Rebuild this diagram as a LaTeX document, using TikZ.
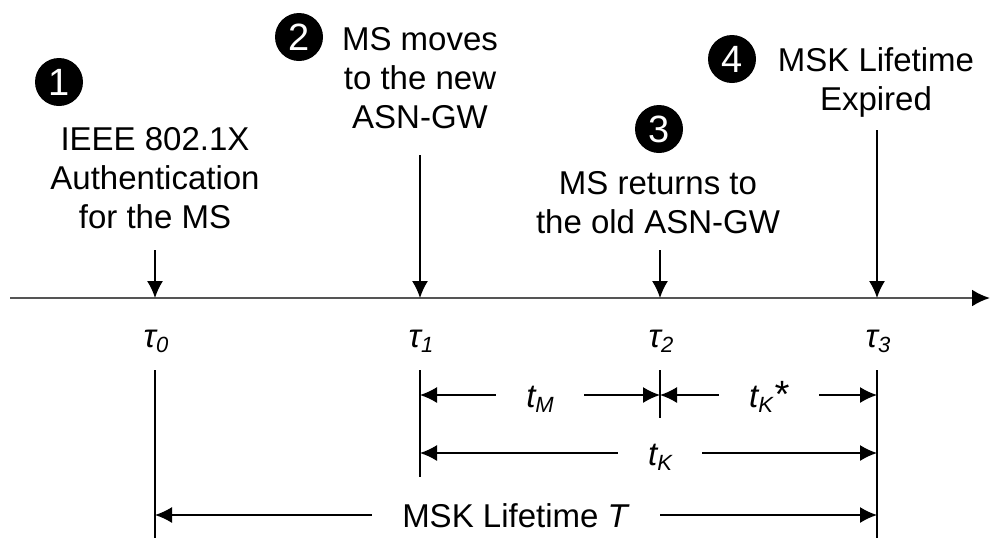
\documentclass[tikz,border=0pt]{standalone}
\usepackage{fontspec}
\setmainfont{Liberation Sans}
\usetikzlibrary{arrows.meta}

\definecolor{axisgray}{RGB}{85,85,85}

% subscript set a little below the baseline
\newcommand{\lowsub}[1]{\raisebox{-2.5pt}{\fontsize{11}{11}\selectfont #1}}

\begin{document}
\begin{tikzpicture}[x=0.5pt, y=-0.5pt,
    every node/.style={font=\fontsize{16.5}{19.5}\selectfont},
    event/.style={align=center, inner sep=0pt, anchor=base},
    badge/.style={circle, fill=black, text=white, minimum size=24pt, inner sep=0pt, font=\fontsize{19}{19}\selectfont},
    instant/.style={inner sep=0pt, anchor=base, font=\fontsize{16.5}{19.5}\selectfont\itshape},
    span/.style={inner xsep=15pt, inner ysep=0pt, text height=14pt, text depth=2pt},
    pointer/.style={-{Latex[length=8.5pt, width=8pt]}, line width=0.75pt},
    guide/.style={line width=0.75pt}]
    \useasboundingbox (0,0) rectangle (991,538);

    % Time axis and the four instants on it
    \coordinate (start) at (10,298);
    \coordinate (end) at (990,298);
    \coordinate (t0) at (155,298);
    \coordinate (t1) at (420,298);
    \coordinate (t2) at (660,298);
    \coordinate (t3) at (877,298);
    \draw[-{Latex[length=9pt, width=8.5pt, color=black]}, line width=1.2pt, draw=axisgray] (start) -- (end);

    % Events above the axis (anchored on the last line)
    \node[badge] (n1) at (59,82) {1};
    \node[badge] (n2) at (299,37) {2};
    \node[badge] (n3) at (659,129) {3};
    \node[badge] (n4) at (732,59) {4};
    \node[event] (ev1) at (155,228) {IEEE 802.1X\\Authentication\\for the MS};
    \node[event] (ev2) at (420,128) {MS moves\\to the new\\ASN-GW};
    \node[event] (ev3) at (658,233) {MS returns to\\the old ASN-GW};
    \node[event] (ev4) at (876,110) {MSK Lifetime\\Expired};

    % Arrows down to the axis
    \coordinate (s0) at (155,250);
    \coordinate (s1) at (420,155);
    \coordinate (s2) at (660,250);
    \coordinate (s3) at (877,130);
    \draw[pointer] (s0) -- (t0);
    \draw[pointer] (s1) -- (t1);
    \draw[pointer] (s2) -- (t2);
    \draw[pointer] (s3) -- (t3);

    % Instant labels
    \node[instant] (tau0) at (156,347) {τ\lowsub{0}};
    \node[instant] (tau1) at (421,347) {τ\lowsub{1}};
    \node[instant] (tau2) at (661,347) {τ\lowsub{2}};
    \node[instant] (tau3) at (878,347) {τ\lowsub{3}};

    % Guide lines below the labels
    \coordinate (g0) at (155,370);
    \coordinate (g1) at (420,370);
    \coordinate (g2) at (660,370);
    \coordinate (g3) at (877,370);
    \coordinate (b0) at (155,538);
    \coordinate (b1) at (420,477);
    \coordinate (b2) at (660,418);
    \coordinate (b3) at (877,538);
    \draw[guide] (g0) -- (b0);
    \draw[guide] (g1) -- (b1);
    \draw[guide] (g2) -- (b2);
    \draw[guide] (g3) -- (b3);

    % Intervals with their labels
    \coordinate (m1) at (420,395);
    \coordinate (m2) at (660,395);
    \coordinate (m3) at (877,395);
    \coordinate (k1) at (420,453);
    \coordinate (k2) at (877,453);
    \coordinate (l1) at (155,515);
    \coordinate (l2) at (877,515);
    \node[span] (tm) at (540,395) {\textit{t\lowsub{M}}};
    \node[span] (tks) at (769,395) {\textit{t\lowsub{K}{\fontsize{19}{19}\selectfont*}}};
    \node[span] (tk) at (660,453) {\textit{t\lowsub{K}}};
    \node[span] (life) at (516,515) {MSK Lifetime \textit{T}};
    \draw[pointer] (tm) -- (m1);
    \draw[pointer] (tm) -- (m2);
    \draw[pointer] (tks) -- (m2);
    \draw[pointer] (tks) -- (m3);
    \draw[pointer] (tk) -- (k1);
    \draw[pointer] (tk) -- (k2);
    \draw[pointer] (life) -- (l1);
    \draw[pointer] (life) -- (l2);
\end{tikzpicture}
\end{document}
